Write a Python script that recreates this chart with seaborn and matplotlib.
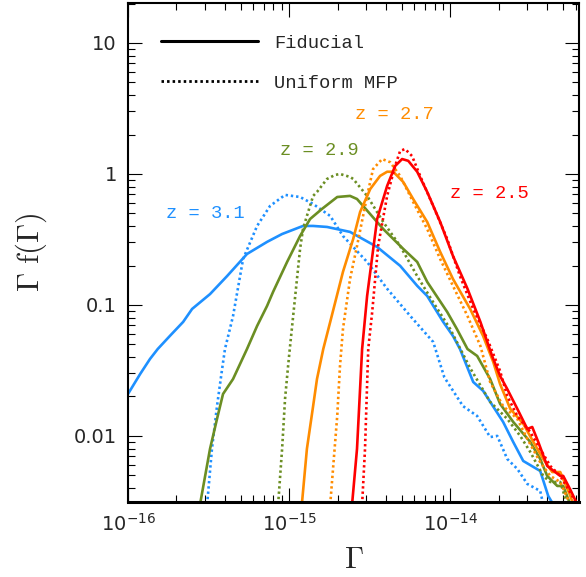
import numpy as np
import pandas as pd
import matplotlib
matplotlib.use("Agg")
import matplotlib.pyplot as plt
import seaborn as sns
from matplotlib.lines import Line2D
from matplotlib.ticker import LogLocator, NullFormatter

# photoionisation rate in units of 1e-15 s^-1, and Gamma f(Gamma)
# z = 3.1
g31 = [0.1, 0.119, 0.137, 0.153, 0.182, 0.220, 0.250, 0.323, 0.412, 0.548, 0.730, 0.905,
       1.22, 1.41, 1.72, 2.39, 3.52, 4.89, 6.24, 7.20, 9.05, 10.4, 11.5, 13.9, 16.0, 21.3,
       24.6, 28.4, 36.2, 40.6, 43.6]
f31 = [0.0209, 0.0297, 0.0387, 0.0461, 0.058, 0.0742, 0.0932, 0.121, 0.166, 0.245, 0.303, 0.348,
       0.401, 0.401, 0.394, 0.361, 0.277, 0.199, 0.140, 0.117, 0.0742, 0.058, 0.0461, 0.0258, 0.0221, 0.0128,
       0.0090, 0.00644, 0.0054, 0.00348, 0.003]
g31u = [0.310, 0.332, 0.357, 0.384, 0.400, 0.449, 0.518, 0.633, 0.762, 0.944, 1.17, 1.41, 1.80,
        2.16, 3.05, 4.06, 5.65, 7.84, 9.2, 12.0, 14.7, 17.7, 19.6, 22.6, 26.1, 30.1, 36.2, 37.8]
f31u = [0.003, 0.00796, 0.0169, 0.0325, 0.0461, 0.0824, 0.224, 0.401, 0.570, 0.692, 0.667, 0.590, 0.478,
        0.336, 0.213, 0.133, 0.0824, 0.0522, 0.028, 0.0169, 0.0142, 0.0098, 0.0100, 0.00667, 0.0056, 0.0043,
        0.0038, 0.003]

# z = 2.9
g29 = [0.280, 0.323, 0.357, 0.389, 0.449, 0.548, 0.633, 0.730, 0.796, 0.972, 1.17, 1.35, 1.60,
       1.99, 2.39, 2.64, 3.84, 5.11, 6.24, 7.20, 9.58, 11.0, 12.8, 14.7, 17.7, 20.4, 24.6, 31.4,
       36.2, 40.0, 46.2, 50.3, 55.6]
f29 = [0.003, 0.00796, 0.0135, 0.0209, 0.0272, 0.0461, 0.0691, 0.0983, 0.126, 0.213, 0.336, 0.453, 0.541,
       0.667, 0.680, 0.644, 0.380, 0.268, 0.213, 0.150, 0.0884, 0.0656, 0.0461, 0.0408, 0.0272, 0.0176, 0.0128,
       0.0090, 0.00667, 0.00495, 0.00415, 0.00415, 0.003]
g29u = [0.855, 0.905, 0.944, 0.986, 1.01, 1.06, 1.17, 1.22, 1.29, 1.41, 1.49, 1.72, 1.93, 2.07,
        2.39, 2.50, 3.05, 3.84, 4.89, 6.24, 7.84, 10.0, 13.3, 17.7, 22.6, 27.2, 31.4, 37.8, 41.8,
        48.2, 53.3]
f29u = [0.003, 0.00796, 0.0192, 0.0342, 0.0461, 0.0824, 0.268, 0.380, 0.478, 0.680, 0.729, 0.916, 0.983,
        1.0, 0.949, 0.916, 0.680, 0.430, 0.282, 0.166, 0.105, 0.0656, 0.033, 0.0182, 0.0135, 0.0100, 0.00755,
        0.00495, 0.00445, 0.00445, 0.003]

# z = 2.7
g27 = [1.20, 1.29, 1.41, 1.49, 1.63, 1.80, 2.16, 2.50, 2.76, 3.19, 3.67, 4.06, 4.43, 5.11, 5.89,
       7.20, 8.67, 10.4, 13.3, 16.0, 18.5, 20.4, 23.6, 28.4, 32.8, 37.8, 43.0, 48.2, 55.6, 58.1]
f27 = [0.003, 0.00796, 0.0169, 0.0272, 0.0461, 0.0742, 0.179, 0.319, 0.513, 0.768, 0.966, 1.04, 1.04,
       0.869, 0.644, 0.430, 0.254, 0.158, 0.0932, 0.058, 0.0367, 0.0249, 0.0161, 0.0124, 0.0090, 0.00667,
       0.0053, 0.0053, 0.0035, 0.003]
g27u = [1.80, 1.88, 1.99, 2.07, 2.16, 2.39, 2.64, 3.05, 3.32, 3.78, 4.24, 4.89, 5.89, 7.20, 8.67,
        10.4, 12.8, 15.4, 17.7, 21.3, 26.1, 30.1, 36.2, 41.8, 48.2, 55.6]
f27u = [0.003, 0.0059, 0.0142, 0.0342, 0.0656, 0.158, 0.282, 0.680, 1.09, 1.30, 1.23, 0.966, 0.611,
        0.380, 0.224, 0.140, 0.0824, 0.0486, 0.0258, 0.0169, 0.0135, 0.0095, 0.0063, 0.00495, 0.00445, 0.003]

# z = 2.5
g25 = [2.46, 2.64, 2.84, 3.05, 3.52, 4.06, 4.55, 5.03, 5.49, 6.24, 7.20, 8.67, 10.4, 12.8, 15.4,
       18.2, 20.4, 22.6, 26.1, 30.1, 32.3, 35.2, 40.0, 48.2, 50.3, 55.6, 61.5]
f25 = [0.003, 0.00796, 0.0461, 0.117, 0.453, 0.810, 1.15, 1.30, 1.26, 1.04, 0.729, 0.430, 0.237, 0.133,
       0.0742, 0.0408, 0.0287, 0.0228, 0.0161, 0.0113, 0.0117, 0.0090, 0.0059, 0.00495, 0.00495, 0.0039, 0.003]
g25u = [2.84, 2.96, 3.10, 3.28, 3.57, 4.06, 4.55, 4.89, 5.25, 5.80, 6.51, 7.84, 9.58, 11.5, 13.9,
        17.0, 20.4, 22.6, 26.1, 31.4, 36.2, 41.8, 48.2, 55.6, 61.5]
f25u = [0.003, 0.00796, 0.0461, 0.0884, 0.282, 0.680, 1.15, 1.50, 1.55, 1.37, 0.966, 0.570, 0.319, 0.166,
        0.0932, 0.055, 0.0313, 0.0202, 0.0142, 0.0107, 0.00796, 0.0059, 0.00495, 0.0037, 0.003]

redshifts = ["3.1", "2.9", "2.7", "2.5"]
colors = ["#1e90ff", "#6b8e23", "#ff8c00", "#ff0000"]
fiducial = [(g31, f31), (g29, f29), (g27, f27), (g25, f25)]
uniform = [(g31u, f31u), (g29u, f29u), (g27u, f27u), (g25u, f25u)]

sns.set_style("ticks")
plt.rcParams["font.family"] = ["DejaVu Sans"]
plt.rcParams["xtick.direction"] = "in"
plt.rcParams["ytick.direction"] = "in"

fig = plt.figure(figsize=(5.86, 5.77), dpi=100)
ax = fig.add_axes([0.2184, 0.130, 0.7696, 0.8648])

dotted = (0, (0.9, 1.1))
for z, c, (g, f), (gu, fu) in zip(redshifts, colors, fiducial, uniform):
    df = pd.DataFrame({"G": np.array(g) * 1e-15, "F": f})
    dfu = pd.DataFrame({"G": np.array(gu) * 1e-15, "F": fu})
    sns.lineplot(data=df, x="G", y="F", ax=ax, color=c, lw=1.9, sort=False, estimator=None)
    sns.lineplot(data=dfu, x="G", y="F", ax=ax, color=c, lw=1.9, ls=dotted, sort=False, estimator=None)

ax.set_xscale("log")
ax.set_yscale("log")
ax.set_xlim(1e-16, 6.3e-14)
ax.set_ylim(0.00313, 20.2)

ax.set_xticks([1e-16, 1e-15, 1e-14], labels=[r"$10^{-16}$", r"$10^{-15}$", r"$10^{-14}$"])
ax.set_yticks([0.01, 0.1, 1, 10], labels=["0.01", "0.1", "1", "10"])
ax.yaxis.set_minor_locator(LogLocator(base=10, subs=np.arange(2, 10)))
ax.yaxis.set_minor_formatter(NullFormatter())
ax.xaxis.set_minor_locator(LogLocator(base=10, subs=np.arange(2, 10), numticks=20))
ax.xaxis.set_minor_formatter(NullFormatter())
ax.tick_params(which="both", direction="in", top=True, right=True, labelsize=14, width=0.8, color="black")
ax.tick_params(which="major", length=10, pad=8)
ax.tick_params(which="minor", length=5)
for s in ax.spines.values():
    s.set_linewidth(1.5)
    s.set_color("black")
ax.spines["bottom"].set_linewidth(2.2)

ax.set_xlabel(r"$\Gamma$", fontsize=22, math_fontfamily="cm", labelpad=7)
ax.set_ylabel(r"$\Gamma\ \mathrm{f}(\Gamma)$", fontsize=22, math_fontfamily="cm", labelpad=18)

# legend
handles = [Line2D([], [], color="black", lw=2.2),
           Line2D([], [], color="black", lw=2.0, ls=dotted)]
leg = ax.legend(handles, ["Fiducial", "Uniform MFP"], loc="upper left",
                bbox_to_anchor=(0.035, 0.97), frameon=False, handlelength=5.2,
                handletextpad=0.85, labelspacing=1.2, prop={"family": "Liberation Mono", "size": 13.5})

# redshift labels
mono = {"family": "Liberation Mono", "size": 13.5}
ax.text(0.503, 0.776, "z = 2.7", color=colors[2], transform=ax.transAxes, va="center", fontdict=mono)
ax.text(0.337, 0.705, "z = 2.9", color=colors[1], transform=ax.transAxes, va="center", fontdict=mono)
ax.text(0.084, 0.579, "z = 3.1", color=colors[0], transform=ax.transAxes, va="center", fontdict=mono)
ax.text(0.714, 0.619, "z = 2.5", color=colors[3], transform=ax.transAxes, va="center", fontdict=mono)

fig.savefig("out.png", dpi=100)
